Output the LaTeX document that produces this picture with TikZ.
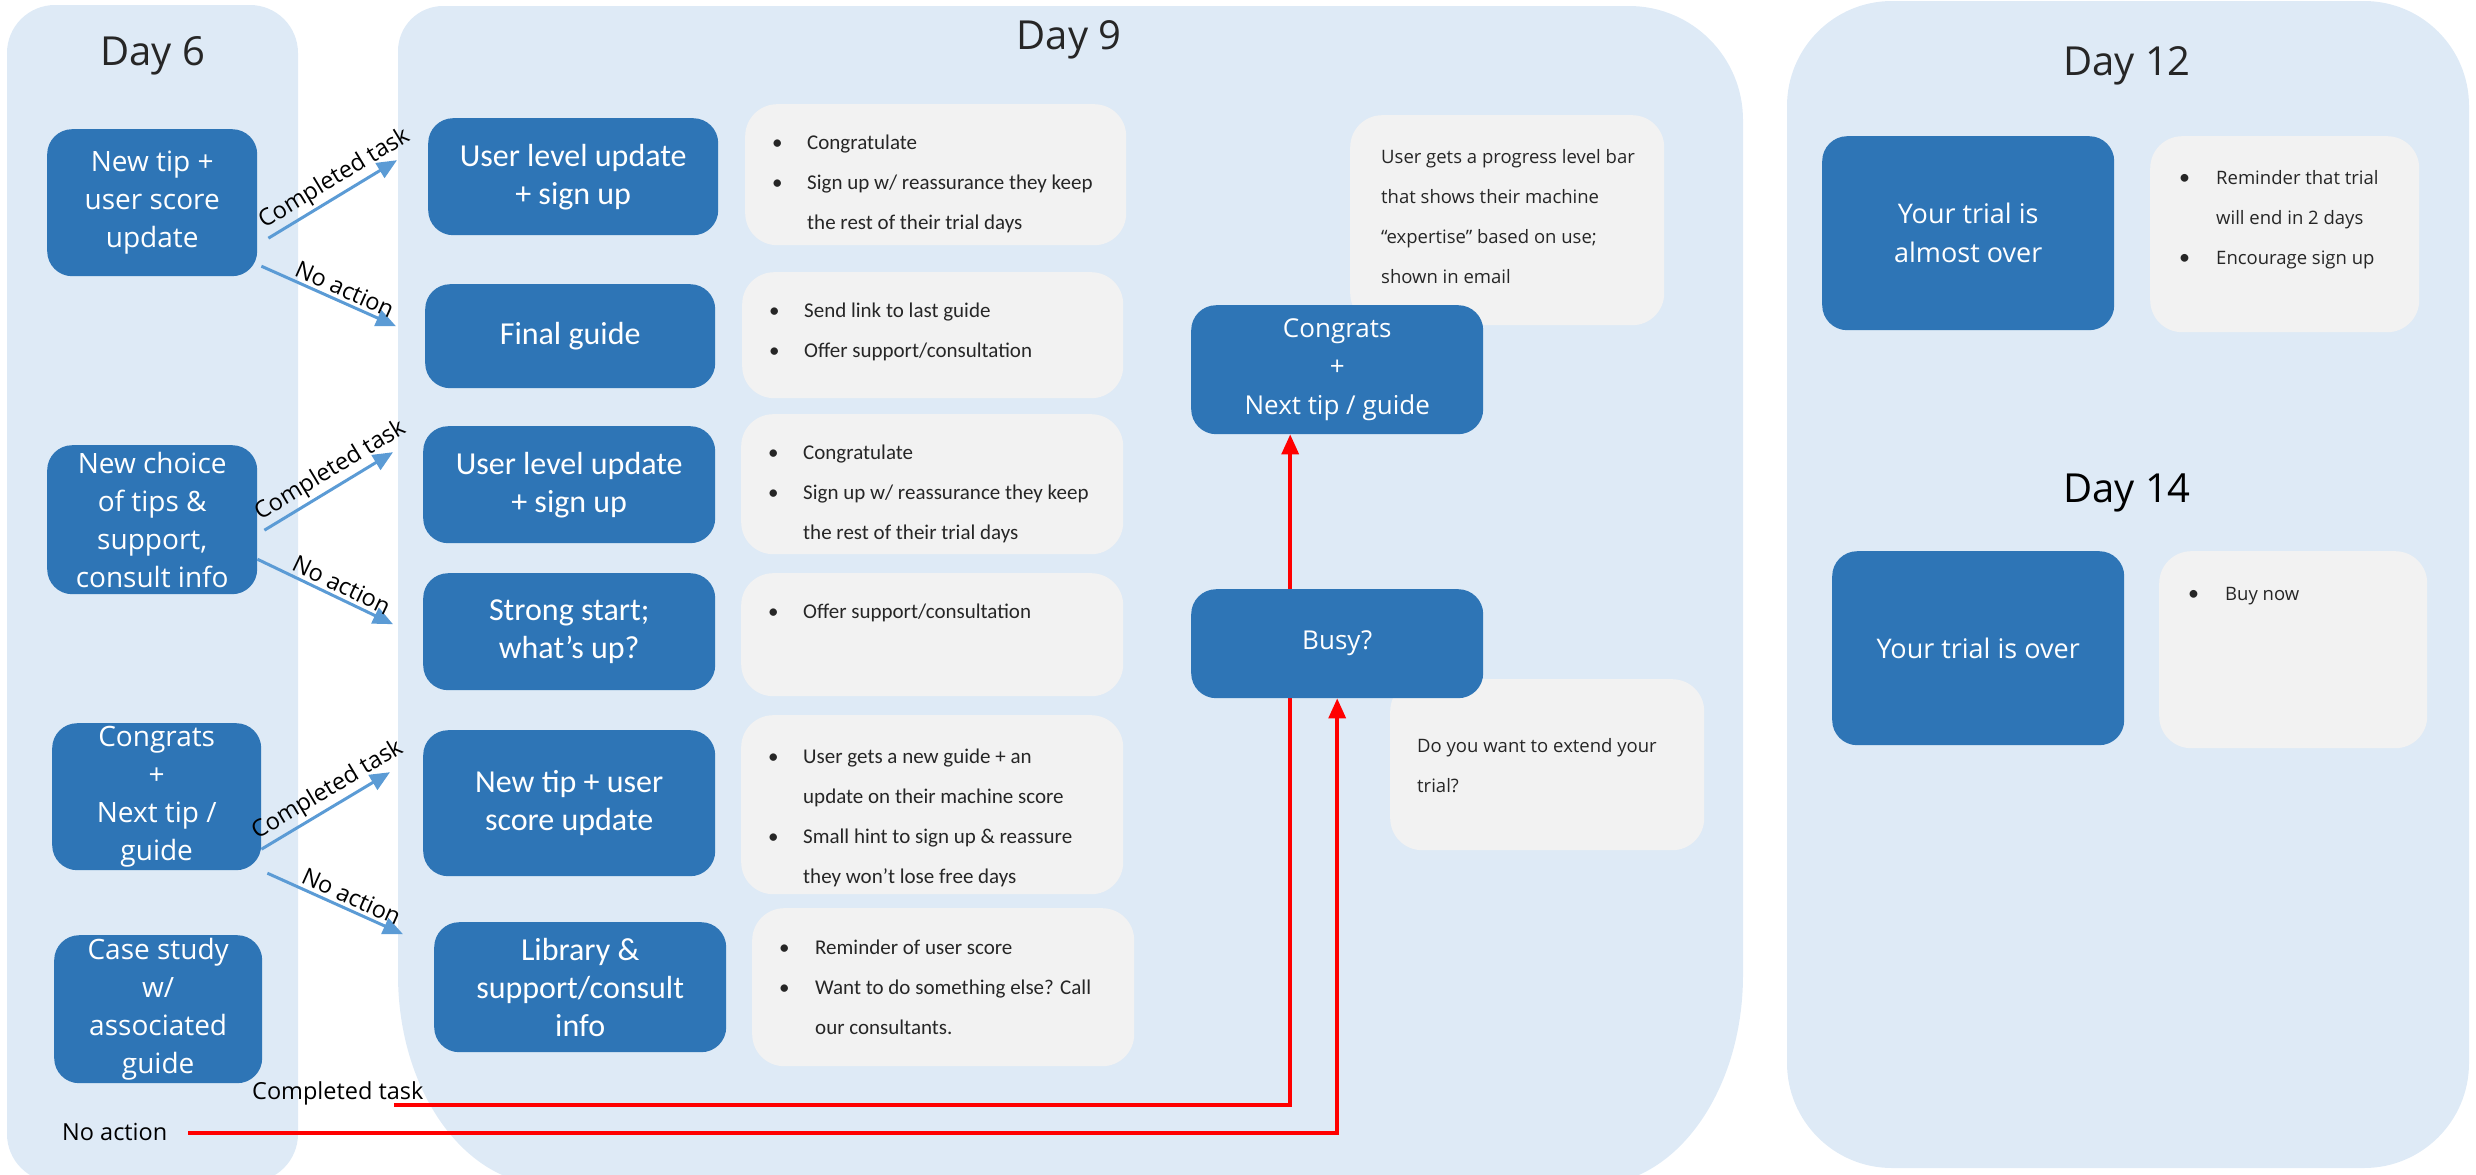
\documentclass[tikz,border=0pt]{standalone}
\usepackage{fontspec}
\setmainfont{Open Sans}
\newfontfamily\calfont{Carlito}
\usetikzlibrary{calc,arrows.meta}
\definecolor{panelc}{HTML}{DEEAF6}
\definecolor{boxblue}{HTML}{2E75B6}
\definecolor{boxgray}{HTML}{F2F2F2}
\definecolor{txtgray}{HTML}{262626}
\definecolor{arrblue}{HTML}{5B9BD5}
\definecolor{redc}{HTML}{FF0000}
\pgfdeclarelayer{panels}
\pgfdeclarelayer{links}
\pgfsetlayers{panels,links,main}
\newcommand{\sbul}{{\calfont\fontsize{22}{40}\selectfont\textbullet}}
\tikzset{
  bluebox/.style={rectangle, rounded corners=25pt, fill=boxblue, text=white, align=center, inner sep=0pt, anchor=north west},
  graybox/.style={rectangle, rounded corners=32pt, fill=boxgray, inner sep=0pt, anchor=north west},
  afont/.style={font=\fontsize{28}{38}\selectfont},
  bfont/.style={font=\calfont\fontsize{32}{38}\selectfont},
  cfont/.style={font=\fontsize{26}{38.5}\selectfont},
  dfont/.style={font=\fontsize{27}{39}\selectfont},
  listcal/.style={font=\calfont\fontsize{21}{40}\selectfont, text=txtgray, inner sep=0pt, anchor=north west},
  listsans/.style={font=\fontsize{18.5}{40}\selectfont, text=txtgray, inner sep=0pt, anchor=north west},
  daytitle/.style={font=\fontsize{40}{48}\selectfont, text=txtgray, anchor=base},
  lab/.style={font=\fontsize{23.5}{28}\selectfont, text=black, inner sep=3pt},
  slab/.style={lab, sloped, above, pos=0.58},
  barrow/.style={draw=arrblue, line width=3pt, -{Triangle[length=20pt,width=17pt]}},
  redline/.style={draw=redc, line width=3.5pt, -{Triangle[length=20pt,width=17pt]}}
}
\begin{document}
\begin{tikzpicture}[x=1pt,y=-1pt]
\useasboundingbox (0,0) rectangle (2476,1175);
\begin{pgfonlayer}{panels}
  \fill[panelc, rounded corners=48pt] (7,5) rectangle (298,1182);
  \fill[panelc] (398,51) -- (398,975) arc[start angle=180, end angle=90, x radius=150, y radius=210]
     -- (1593,1185) arc[start angle=90, end angle=0, x radius=150, y radius=210]
     -- (1743,120) arc[start angle=0, end angle=-90, radius=114]
     -- (443,6) arc[start angle=270, end angle=180, radius=45] -- cycle;
  \fill[panelc, rounded corners=105pt] (1787,1) rectangle (2469,1168);
\end{pgfonlayer}

% titles
\node[daytitle] (t6) at (153,65) {Day 6};
\node[daytitle] (t9) at (1069,49) {Day 9};
\node[daytitle] (t12) at (2127,75) {Day 12};
\node[daytitle, text=black] (t14) at (2127,502) {Day 14};

% Day 6 boxes
\node[bluebox, afont, minimum width=210pt, minimum height=147pt] (a1) at (47,129) {New tip +\\user score\\update};
\node[bluebox, afont, minimum width=210pt, minimum height=149pt] (a2) at (47,445) {New choice\\of tips \&\\support,\\consult info};
\node[bluebox, afont, minimum width=209pt, minimum height=147pt] (a3) at (52,723) {Congrats\\+\\Next tip /\\guide};
\node[bluebox, afont, minimum width=208pt, minimum height=148pt] (a4) at (54,935) {Case study\\w/\\associated\\guide};

% Day 9 left column
\node[bluebox, bfont, minimum width=290pt, minimum height=117pt] (b1) at (428,118) {User level update\\+ sign up};
\node[bluebox, bfont, minimum width=290pt, minimum height=104pt] (b2) at (425,284) {Final guide};
\node[bluebox, bfont, minimum width=292pt, minimum height=117pt] (b3) at (423,426) {User level update\\+ sign up};
\node[bluebox, bfont, minimum width=292pt, minimum height=117pt] (b4) at (423,573) {Strong start;\\what’s up?};
\node[bluebox, bfont, minimum width=292pt, minimum height=146pt] (b5) at (423,730) {New tip + user\\score update};
\node[bluebox, bfont, minimum width=292pt, minimum height=130pt] (b6) at (434,922) {Library \&\\support/consult\\info};

% Day 9 gray boxes
\node[graybox, minimum width=381pt, minimum height=141pt] (g1) at (745,104) {};
\node[listcal] (g1t) at ($(g1.north west)+(27,17)$) {\begin{tabular}{@{}p{35pt}@{}l@{}}\textbullet & Congratulate\\ \textbullet & Sign up w/ reassurance they keep\\ & the rest of their trial days\end{tabular}};
\node[graybox, minimum width=381pt, minimum height=126pt] (g2) at (742,272) {};
\node[listcal] (g2t) at ($(g2.north west)+(27,17)$) {\begin{tabular}{@{}p{35pt}@{}l@{}}\textbullet & Send link to last guide\\ \textbullet & Offer support/consultation\end{tabular}};
\node[graybox, minimum width=382pt, minimum height=140pt] (g3) at (741,414) {};
\node[listcal] (g3t) at ($(g3.north west)+(27,17)$) {\begin{tabular}{@{}p{35pt}@{}l@{}}\textbullet & Congratulate\\ \textbullet & Sign up w/ reassurance they keep\\ & the rest of their trial days\end{tabular}};
\node[graybox, minimum width=382pt, minimum height=123pt] (g4) at (741,573) {};
\node[listcal] (g4t) at ($(g4.north west)+(27,17)$) {\begin{tabular}{@{}p{35pt}@{}l@{}}\textbullet & Offer support/consultation\end{tabular}};
\node[graybox, minimum width=382pt, minimum height=179pt] (g5) at (741,715) {};
\node[listcal] (g5t) at ($(g5.north west)+(27,20)$) {\begin{tabular}{@{}p{35pt}@{}l@{}}\textbullet & User gets a new guide + an\\ & update on their machine score\\ \textbullet & Small hint to sign up \& reassure\\ & they won’t lose free days\end{tabular}};
\node[graybox, minimum width=382pt, minimum height=158pt] (g6) at (752,908) {};
\node[listcal] (g6t) at ($(g6.north west)+(27,18)$) {\begin{tabular}{@{}p{36pt}@{}l@{}}\textbullet & Reminder of user score\\ \textbullet & Want to do something else? Call\\ & our consultants.\end{tabular}};

% Day 9 right part
\node[graybox, minimum width=314pt, minimum height=210pt] (g7) at (1350,115) {};
\node[listsans] (g7t) at ($(g7.north west)+(31,20)$) {\begin{tabular}{@{}l@{}}User gets a progress level bar\\ that shows their machine\\ “expertise” based on use;\\ shown in email\end{tabular}};
\node[graybox, minimum width=314pt, minimum height=171pt] (g8) at (1390,679) {};
\node[listsans] (g8t) at ($(g8.north west)+(27,45)$) {\begin{tabular}{@{}l@{}}Do you want to extend your\\ trial?\end{tabular}};
\node[bluebox, cfont, minimum width=292pt, minimum height=129pt] (c1) at (1191,305) {Congrats\\+\\Next tip / guide};
\node[bluebox, cfont, minimum width=292pt, minimum height=109pt] (c2) at (1191,589) {Busy?};

% Day 12 / 14
\node[bluebox, dfont, minimum width=292pt, minimum height=194pt] (d1) at (1822,136) {Your trial is\\almost over};
\node[graybox, minimum width=269pt, minimum height=196pt] (g9) at (2150,136) {};
\node[listsans] (g9t) at ($(g9.north west)+(29,20)$) {\begin{tabular}{@{}p{37pt}@{}l@{}}\sbul & Reminder that trial\\ & will end in 2 days\\ \sbul & Encourage sign up\end{tabular}};
\node[bluebox, dfont, minimum width=292pt, minimum height=194pt] (d2) at (1832,551) {Your trial is over};
\node[graybox, minimum width=268pt, minimum height=197pt] (g10) at (2159,551) {};
\node[listsans] (g10t) at ($(g10.north west)+(29,21)$) {\begin{tabular}{@{}p{37pt}@{}l@{}}\sbul & Buy now\end{tabular}};

% bottom labels
\node[lab, anchor=base west, inner sep=0pt] (ctlab) at (252,1099) {Completed task};
\node[lab, anchor=base west, inner sep=0pt] (nalab) at (62,1140) {No action};
\coordinate (ctstart) at (394,1105);
\coordinate (nastart) at (188,1133);

% blue arrows (on top of boxes)
\draw[barrow] ([xshift=11pt,yshift=-35.5pt]a1.east) -- node[slab] {Completed task} ([xshift=-31pt,yshift=16.5pt]b1.west);
\draw[barrow] ([xshift=4pt,yshift=-63.5pt]a1.east) -- node[slab] {No action} ([xshift=-29pt,yshift=10pt]b2.west);
\draw[barrow] ([xshift=7pt,yshift=-10.5pt]a2.east) -- node[slab] {Completed task} ([xshift=-30pt,yshift=32.5pt]b3.west);
\draw[barrow] ([xshift=0pt,yshift=-39.5pt]a2.east) -- node[slab] {No action} ([xshift=-30pt,yshift=7.5pt]b4.west);
\draw[barrow] ([xshift=0pt,yshift=-52.5pt]a3.east) -- node[slab] {Completed task} ([xshift=-33pt,yshift=31pt]b5.west);
\draw[barrow] ([xshift=6pt,yshift=-76.5pt]a3.east) -- node[slab] {No action} ([xshift=-31pt,yshift=53pt]b6.west);

\begin{pgfonlayer}{links}
\draw[redline] (ctstart) -| ([xshift=-47pt]c1.south);
\draw[redline] (nastart) -| (c2.south);
\end{pgfonlayer}
\end{tikzpicture}
\end{document}
